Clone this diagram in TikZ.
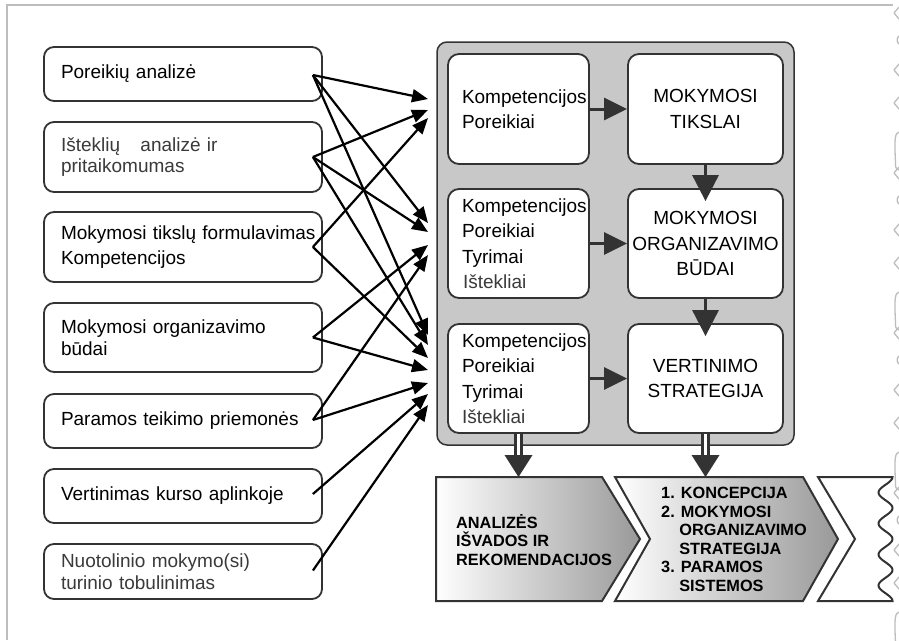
\documentclass[tikz,border=0pt]{standalone}
\usepackage{fontspec}
\setmainfont{Liberation Sans}
\usetikzlibrary{arrows.meta,calc}
\definecolor{dk}{HTML}{333333}
\definecolor{panel}{HTML}{C8C8C8}
\definecolor{framec}{HTML}{BDBDBD}
\definecolor{txtg}{HTML}{3A3A3A}
\begin{document}
\begin{tikzpicture}[x=1pt,y=-1pt,
  lbox/.style={draw=dk,line width=1.8pt,rounded corners=10pt,minimum width=278pt,
    text width=244pt,align=left,inner sep=0pt,font=\fontsize{19}{21.5}\selectfont},
  ilbox/.style={draw=dk,fill=white,line width=1.8pt,rounded corners=11pt,minimum width=141pt,
    minimum height=109pt,text width=113pt,align=left,inner sep=0pt,font=\fontsize{19}{25.5}\selectfont},
  irbox/.style={draw=dk,fill=white,line width=1.8pt,rounded corners=11pt,minimum width=155pt,
    minimum height=109pt,text width=150pt,align=center,inner sep=0pt,font=\fontsize{19}{25.5}\selectfont},
  larr/.style={draw=black,line width=2.2pt,-{Triangle[length=16pt,width=13pt]}},
  harr/.style={draw=dk,line width=3pt,-{Triangle[length=23pt,width=22pt]}},
  varr/.style={draw=dk,line width=3pt,-{Triangle[length=26pt,width=26pt]}},
  dbl/.style={draw=dk,line width=3pt,double=white,double distance=3.5pt},
  chev/.style={draw=dk,line width=2pt,line join=miter},
  chtext/.style={align=left,inner sep=0pt,anchor=west,font=\bfseries\fontsize{16.3}{18.5}\selectfont},
  torn/.style={draw=framec,line width=1.3pt,line cap=round,line join=round}
]
\useasboundingbox (0,0) rectangle (899,640);
\fill[white] (0,0) rectangle (899,640);
% outer frame
\draw[draw=framec,line width=2pt] (7,640) -- (7,5) -- (893,5);
\foreach \y in {13,173,333,493,653}{
  \draw[torn] (899,\y-6) -- (894,\y) -- (899,\y+6);
  \draw[torn] (899,\y+23) .. controls (896.5,\y+25) and (896.5,\y+29) .. (899,\y+31);
  \draw[torn] (899,\y+51) -- (894,\y+57) -- (899,\y+63);
  \draw[torn] (899,\y+84) -- (894,\y+90) -- (899,\y+96);
  \draw[torn] (899,\y+119) .. controls (894.5,\y+120) and (895,\y+128) .. (895,\y+138)
     -- (895.5,\y+150) .. controls (895.5,\y+155) .. (899,\y+157);
}
% left boxes
\node[lbox,minimum height=54pt] (L1) at (183,74) {Poreikių analizė};
\node[lbox,minimum height=70pt] (L2) at (183,157) {\color{txtg}Išteklių\hspace*{14pt} analizė ir\\pritaikomumas};
\node[lbox,minimum height=70pt,font=\fontsize{19}{25}\selectfont] (L3) at (183,247) {\mbox{Mokymosi tikslų formulavimas}\\Kompetencijos};
\node[lbox,minimum height=69pt] (L4) at (183,337.5) {Mokymosi organizavimo\\būdai};
\node[lbox,minimum height=54pt] (L5) at (183,421) {Paramos teikimo priemonės};
\node[lbox,minimum height=54pt] (L6) at (183,496) {Vertinimas kurso aplinkoje};
\node[lbox,minimum height=55pt] (L7) at (183,571.5) {\color{txtg}Nuotolinio mokymo(si)\\turinio tobulinimas};
% grey panel
\node[draw=dk,fill=panel,line width=1.5pt,rounded corners=10pt,minimum width=357pt,minimum height=403pt,inner sep=0pt] (P) at (615.5,243.5) {};
% inner boxes
\node[ilbox,minimum height=110pt] (IL1) at (518.5,109) {\mbox{Kompetencijos}\\Poreikiai};
\node[ilbox] (IL2) at (518.5,243.5) {\mbox{Kompetencijos}\\Poreikiai\\Tyrimai\\{\color{txtg}\hspace*{1pt}Ištekliai}};
\node[ilbox] (IL3) at (518.5,378.5) {\mbox{Kompetencijos}\\Poreikiai\\Tyrimai\\{\color{txtg}Ištekliai}};
\node[irbox,minimum height=110pt] (IR1) at (705.5,109) {MOKYMOSI\\TIKSLAI};
\node[irbox] (IR2) at (705.5,243.5) {MOKYMOSI\\\mbox{ORGANIZAVIMO}\\BŪDAI};
\node[irbox] (IR3) at (705.5,378.5) {VERTINIMO\\STRATEGIJA};
% arrows inside panel
\draw[harr] (IL1.east) -- (IR1.west);
\draw[harr] (IL2.east) -- (IR2.west);
\draw[harr] (IL3.east) -- (IR3.west);
\draw[varr] (IR1.south) -- ($(IR2.north)+(0,13)$);
\draw[varr] (IR2.south) -- ($(IR3.north)+(0,13)$);
% sources and targets of the left connectors
\coordinate (s1) at ($(L1.east)+(-10,1)$);
\coordinate (s2) at ($(L2.east)+(-10,0)$);
\coordinate (s3) at ($(L3.east)+(-10,0)$);
\coordinate (s4) at ($(L4.east)+(-10,0)$);
\coordinate (s5) at ($(L5.east)+(-10,-1)$);
\coordinate (s6) at ($(L6.east)+(-10,-2)$);
\coordinate (s7) at ($(L7.east)+(-10,-1)$);
\coordinate (t1a) at (428,99);
\coordinate (t2a) at (428,110);
\coordinate (t3a) at (428,118);
\coordinate (t1b) at (428,223);
\coordinate (t2b) at (428,232);
\coordinate (t4b) at (428,245);
\coordinate (t5b) at (428,255);
\coordinate (t1c) at (428,335);
\coordinate (t2c) at (428,345);
\coordinate (t3c) at (428,358);
\coordinate (t4c) at (428,370);
\coordinate (t5c) at (428,383);
\coordinate (t6c) at (428,394);
\coordinate (t7c) at (428,405);
\foreach \s/\t in {s1/t1a,s1/t1b,s1/t1c,s2/t2a,s2/t2b,s2/t2c,s3/t3a,s3/t3c,
                   s4/t4b,s4/t4c,s5/t5b,s5/t5c,s6/t6c,s7/t7c}
  \draw[larr] (\s) -- (\t);
% chevrons
\draw[chev,left color=white,right color=gray!80] (436,477) -- (602,477) -- (640,539) -- (602,601) -- (436,601) -- cycle;
\draw[chev,left color=white,right color=gray!80] (615,477) -- (803,477) -- (838,539) -- (803,601) -- (615,601) -- (650,539) -- cycle;
\draw[chev,fill=white] (818,477) -- (892.5,477)
   -- plot[domain=0:1440,samples=90,smooth] ({885.5+7*cos(\x)},{477+\x/11.6129})
   -- (818,601) -- (855,539) -- cycle;
\coordinate (c1) at (518.5,477);
\coordinate (c2) at (705.5,477);
\node[chtext] (T1) at (456,540) {ANALIZĖS\\IŠVADOS IR\\REKOMENDACIJOS};
\node[chtext] (T2) at (661,539.5) {1. KONCEPCIJA\\2. MOKYMOSI\\\hphantom{2.\ }ORGANIZAVIMO\\\hphantom{2.\ }STRATEGIJA\\3. PARAMOS\\\hphantom{3.\ }SISTEMOS};
% double arrows down
\coordinate (b1) at ($(c1)+(0,-22)$);
\coordinate (b2) at ($(c2)+(0,-22)$);
\draw[dbl] (IL3.south) -- ($(b1)+(0,1)$);
\draw[dbl] (IR3.south) -- ($(b2)+(0,1)$);
\fill[dk] ($(b1)+(-14,0)$) -- ($(b1)+(14,0)$) -- (c1) -- cycle;
\fill[dk] ($(b2)+(-14,0)$) -- ($(b2)+(14,0)$) -- (c2) -- cycle;
\end{tikzpicture}
\end{document}
